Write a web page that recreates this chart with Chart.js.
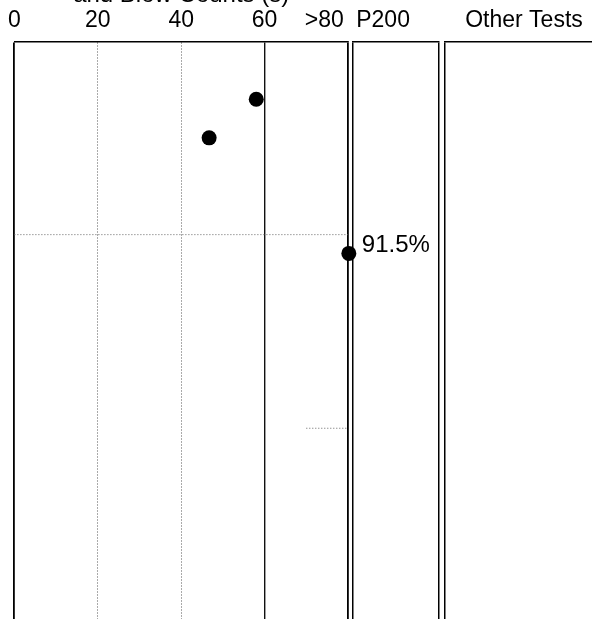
<!DOCTYPE html>
<html>
<head>
<meta charset="utf-8">
<script src="https://cdn.jsdelivr.net/npm/chart.js@4.4.1/dist/chart.umd.min.js"></script>
<style>
  html, body { margin: 0; padding: 0; background: #fff; overflow: hidden; }
  #log { position: relative; width: 592px; height: 619px; overflow: hidden; }
  #log canvas { position: absolute; top: 0; }
</style>
</head>
<body>
<div id="log">
  <canvas id="panelB" width="102" height="660" style="left:345px"></canvas>
  <canvas id="panelC" width="174" height="660" style="left:437px"></canvas>
  <canvas id="panelA" width="440" height="660" style="left:0px; z-index:2"></canvas>
</div>
<script>
// column 1 scale (ticks along the top)
const xTickValues = [0, 20, 40, 60, 74.3, 80];
const xTickLabels = ['0', '20', '40', '60', '>80', ''];
// blow counts
const blowValues = [58, 46.7];
const blowDepths = [2.9, 4.85];
// off-scale value, plotted on the >80 edge
const overValues = [80.2];
const overDepths = [10.7];
const overLabels = ['91.5%'];
// layer boundaries (dotted)
const layerDepths = [9.75, 19.55];
const layerFrom = [0, 70];
const layerTo = [80, 80];
const depthMax = 30.9;
// headings of the two narrow columns, and where they sit across the column
const panelTitles = ['P200', 'Other Tests'];
const panelTitleAt = [0.35, 0.5];

const FONT = '"Liberation Sans", Arial, Helvetica, sans-serif';
Chart.defaults.font.family = FONT;
Chart.defaults.color = '#000';

// writes the text next to a point (e.g. 91.5%)
const pointLabels = {
  id: 'pointLabels',
  afterDatasetsDraw(chart) {
    const ctx = chart.ctx;
    chart.data.datasets.forEach((ds, i) => {
      if (!ds.pointLabels) return;
      chart.getDatasetMeta(i).data.forEach((pt, j) => {
        ctx.save();
        ctx.font = '24px ' + FONT;
        ctx.fillStyle = '#000';
        ctx.textBaseline = 'middle';
        ctx.fillText(ds.pointLabels[j], pt.x + 13, pt.y - 8);
        ctx.restore();
      });
    });
  }
};

function toPoints(xs, ys) {
  return xs.map((x, i) => ({x: x, y: ys[i]}));
}

const datasets = [
  {
    label: 'Blow Counts',
    data: toPoints(blowValues, blowDepths),
    pointRadius: 7.5,
    backgroundColor: '#000',
    borderWidth: 0,
    clip: false,
  },
  {
    label: 'Over 80',
    data: toPoints(overValues, overDepths),
    pointLabels: overLabels,
    pointRadius: 7.5,
    backgroundColor: '#000',
    borderWidth: 0,
    clip: false,
  },
];
for (let i = 0; i < layerDepths.length; i++) {
  datasets.push({
    type: 'line',
    label: 'layer_' + (i + 1),
    data: [{x: layerFrom[i], y: layerDepths[i]}, {x: layerTo[i], y: layerDepths[i]}],
    borderColor: '#666',
    borderWidth: 1,
    borderDash: [1, 2],
    pointRadius: 0,
    clip: false,
  });
}

new Chart(document.getElementById('panelA'), {
  type: 'scatter',
  data: {datasets: datasets},
  plugins: [pointLabels],
  options: {
    responsive: false,
    animation: false,
    events: [],
    layout: {padding: {left: 13, right: 92, top: 0, bottom: 0}},
    plugins: {legend: {display: false}, tooltip: {enabled: false}},
    scales: {
      x: {
        type: 'linear',
        position: 'top',
        min: 0,
        max: 80,
        afterBuildTicks: (s) => { s.ticks = xTickValues.map(v => ({value: v})); },
        afterFit: (s) => { s.height = 42; },
        ticks: {
          autoSkip: false,
          maxRotation: 0,
          padding: 8,
          font: {size: 23},
          color: '#000',
          callback: (v, i) => xTickLabels[i],
        },
        grid: {
          drawTicks: false,
          color: ['#000', '#555', '#555', '#111', 'rgba(0,0,0,0)', '#000'],
          lineWidth: [1.8, 1, 1, 1.4, 1, 1.8],
        },
        border: {
          color: '#000',
          width: 1.5,
          dash: (ctx) => (ctx.index === 1 || ctx.index === 2) ? [1, 2] : [],
        },
        title: {
          display: true,
          text: 'and Blow Counts (s)',
          font: {size: 24},
          color: '#000',
          padding: {top: -19, bottom: 0},
        },
      },
      y: {display: false, min: 0, max: depthMax, reverse: true},
    },
  },
});

// the two narrow columns to the right, empty frames with a heading
function emptyPanel(id, title, at) {
  const labels = ['', title, ''];
  return new Chart(document.getElementById(id), {
    type: 'scatter',
    data: {datasets: []},
    options: {
      responsive: false,
      animation: false,
      events: [],
      layout: {padding: {left: 0, right: 0, top: 0, bottom: 0}},
      plugins: {legend: {display: false}, tooltip: {enabled: false}},
      scales: {
        x: {
          type: 'linear',
          position: 'top',
          min: 0,
          max: 1,
          afterBuildTicks: (s) => { s.ticks = [{value: 0}, {value: at}, {value: 1}]; },
          afterFit: (s) => { s.height = 42; },
          ticks: {
            autoSkip: false,
            maxRotation: 0,
            padding: 8,
            font: {size: 23},
            color: '#000',
            callback: (v, i) => labels[i],
          },
          grid: {drawTicks: false, color: ['#000', 'rgba(0,0,0,0)', '#000'], lineWidth: 1.5},
          border: {color: '#000', width: 1.5},
        },
        y: {display: false, min: 0, max: depthMax, reverse: true},
      },
    },
  });
}
emptyPanel('panelB', panelTitles[0], panelTitleAt[0]);
emptyPanel('panelC', panelTitles[1], panelTitleAt[1]);
</script>
</body>
</html>
